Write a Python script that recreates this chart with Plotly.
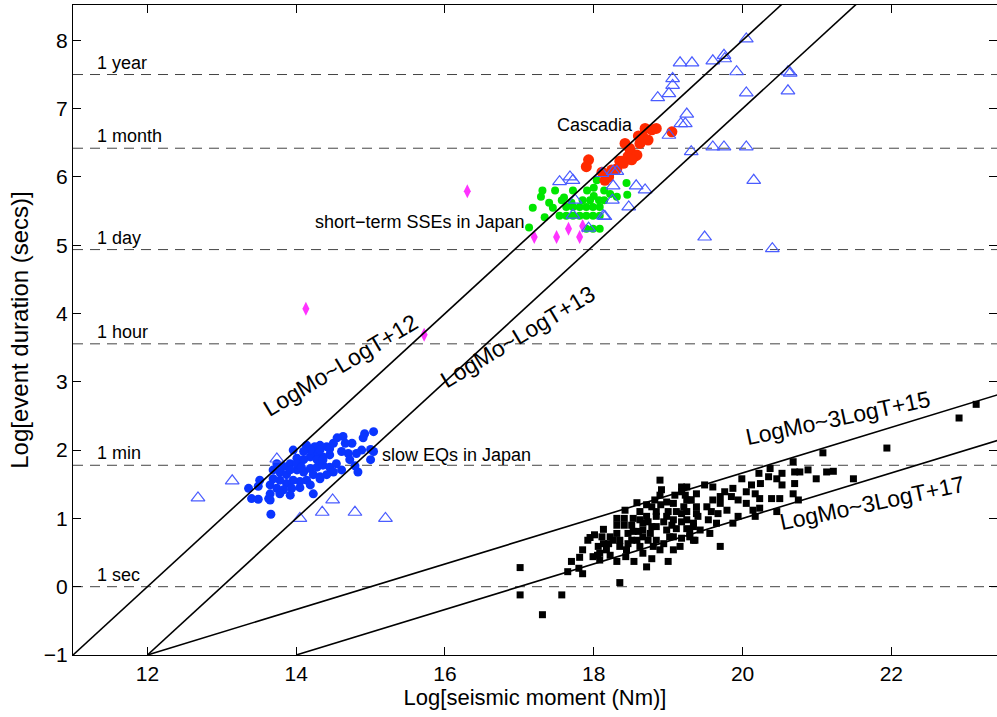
import plotly.graph_objects as go

# ---------------- data ----------------
slow_eqs = [(15.04,2.27),(14.92,2.24),(14.90,2.18),(14.63,2.20),(14.55,2.18),(14.75,2.10),(15.0,2.01),(15.04,1.98),
            (14.88,2.00),(14.81,1.95),(14.70,1.95),(14.72,1.86),(15.0,1.86),(14.79,1.77),(14.61,1.71),(14.41,2.05),
            (14.32,2.07),(14.25,2.05),(14.14,2.05),(14.45,1.93),(14.36,1.90),(14.28,1.95),(14.19,1.90),(14.10,1.86),
            (14.01,1.88),(13.92,1.80),(13.83,1.76),(13.78,1.68),(13.87,1.64),(14.01,1.71),(14.10,1.68),(14.19,1.73),
            (14.28,1.75),(14.36,1.78),(14.45,1.75),(14.54,1.80),(14.50,1.68),(14.41,1.64),(14.32,1.58),(14.23,1.64),
            (14.14,1.56),(14.05,1.54),(13.96,1.56),(13.87,1.51),(13.78,1.56),(13.69,1.58),(13.65,1.49),(13.74,1.44),
            (13.83,1.42),(13.94,1.44),(14.05,1.45),(14.19,1.49),(14.32,1.61),(14.23,1.36),(13.92,1.34),(13.78,1.36),
            (13.65,1.36),(13.63,1.29),(13.51,1.56),(13.49,1.47),(13.36,1.44),(13.40,1.29),(13.49,1.28),(13.65,1.27),
            (13.66,1.06),(13.69,1.71),(13.74,1.80),(14.14,2.07),(14.19,2.00),(14.32,2.00),(14.45,2.02),(14.50,2.10),
            (14.66,2.10),(14.61,1.98),(13.96,2.00),(14.10,1.98),(13.92,1.71),(14.28,1.86),(14.36,1.86),(14.01,1.80),
            (14.07,1.75),(14.83,1.68)]

other_events = [(12.68,1.30),(13.14,1.55),(13.74,1.87),(14.05,1.0),(14.35,1.09),(14.49,1.27),(14.79,1.09),(15.2,1.0),
                (20.05,8.02),(19.16,7.67),(19.32,7.67),(19.60,7.70),(19.75,7.78),(19.76,7.73),(19.92,7.54),(20.61,7.54),
                (20.64,7.52),(19.06,7.44),(19.06,7.34),(19.01,7.22),(18.86,7.16),(20.05,7.23),(20.61,7.26),(19.25,6.92),
                (19.17,6.78),(19.23,6.78),(19.01,6.61),(19.31,6.37),(19.60,6.44),(19.75,6.44),(20.05,6.44),(20.15,5.95),
                (19.49,5.12),(20.40,4.95),(18.26,6.08),(18.31,6.08),(18.11,6.05),(18.26,5.87),(18.57,5.87),(18.69,5.81),
                (18.25,5.66),(18.47,5.56),(18.13,5.43),(17.54,5.93),(17.68,6.00),(17.72,5.95),(17.75,5.66),(17.93,5.25),
                (18.15,5.42),(17.72,5.44)]

cascadia = [(18.69,6.71),(18.78,6.69),(18.84,6.71),(18.66,6.59),(18.73,6.54),(18.62,6.49),(18.42,6.49),(18.49,6.39),
            (18.55,6.30),(18.46,6.30),(18.35,6.23),(18.40,6.20),(17.93,6.25),(17.90,6.15),(18.11,6.07),(18.20,6.00),
            (18.15,5.95),(18.24,6.10),(18.31,6.12),(19.05,6.66),(18.58,6.32),(18.51,6.25),(18.37,6.23),(18.20,6.03),
            (18.60,6.60),(18.48,6.42)]

short_sses = [(17.13,5.26),(17.18,5.55),(17.29,5.71),(17.31,5.80),(17.45,5.55),(17.48,5.80),(17.57,5.66),(17.72,5.80),
              (17.91,5.80),(18.00,5.84),(18.00,5.72),(18.14,5.80),(18.14,5.66),(18.44,5.91),(18.45,5.74),(18.31,5.71),
              (18.07,5.66),(17.63,5.56),(17.72,5.56),(17.81,5.56),(17.90,5.56),(17.99,5.56),(18.08,5.56),(17.54,5.43),
              (17.63,5.43),(17.72,5.43),(17.81,5.43),(17.90,5.43),(17.99,5.43),(18.08,5.43),(17.90,5.24),(17.99,5.24),
              (18.08,5.24),(18.04,5.95),(17.60,5.70),(17.85,5.66),(17.95,5.66),(18.22,5.75),(17.40,5.62),(17.70,5.62),
              (17.34,5.41)]

vlf_events = [(16.30,5.79),(14.13,4.07),(15.72,3.69),(17.20,5.12),(17.50,5.12),(17.66,5.24),(17.81,5.12),(17.85,5.28)]

regular_eqs = [(17.01,0.28),(17.01,-0.12),(17.31,-0.41),(17.57,-0.12),(18.35,0.06),(17.65,0.22),(17.70,0.37),(17.81,0.43),
               (17.85,0.54),(17.85,0.19),(17.80,0.27),(17.95,0.72),(18.01,0.76),(18.05,0.46),(18.08,0.39),(18.13,0.84),
               (18.17,0.54),(18.20,0.63),(18.31,0.37),(18.31,1.0),(18.31,0.90),(18.41,1.0),(18.41,0.90),(18.31,0.78),
               (18.26,0.68),(18.43,0.44),(18.44,0.54),(18.51,0.68),(18.53,0.81),(18.53,1.0),(18.58,1.23),(18.54,0.37),
               (18.62,0.59),(18.66,0.49),(18.71,0.29),(18.78,0.41),(18.66,0.73),(18.76,0.78),(18.84,0.68),(18.89,1.56),
               (18.91,1.42),(18.90,1.20),(19.0,0.37),(18.98,0.83),(19.07,1.22),(19.18,1.46),(19.23,1.34),(19.18,1.07),
               (19.07,0.98),(18.98,1.03),(18.84,1.03),(18.78,0.88),(18.66,0.93),(18.60,0.81),(18.80,0.59),(18.94,0.63),
               (19.07,0.73),(19.18,0.71),(19.29,0.78),(19.36,0.68),(19.34,0.93),(19.25,1.10),(19.38,1.17),(19.31,1.27),
               (18.13,0.63),(18.06,0.59),(18.22,0.46),(18.46,0.78),(18.71,1.03),(18.84,0.88),(19.05,0.90),
               (18.51,0.90),(18.62,0.98),(18.73,0.95),(18.84,1.10),(18.94,0.95),(19.0,1.10),(19.11,1.10),(19.18,0.95),
               (19.25,0.85),(19.40,1.03),(19.11,0.85),(19.02,0.73),(18.66,0.83),(18.58,0.68),(18.73,0.68),(18.89,0.54),
               (19.07,0.54),(19.16,0.59),(18.78,1.17),(19.09,1.34),(18.98,1.24),(19.25,1.27),(18.11,0.73),(18.22,0.73),
               (18.35,0.68),(18.35,0.59),(18.46,0.63),(18.08,0.49),(17.99,0.44),(17.92,0.68),(18.42,1.12),(18.62,1.10),
               (18.71,1.20),(18.82,1.27),(18.89,1.34),(19.25,1.46),(19.38,1.36),
               (21.08,1.96),(20.68,1.83),(20.70,1.68),(20.77,1.68),(20.88,1.71),(21.13,1.68),(21.22,1.69),(20.99,1.58),
               (21.49,1.58),(20.53,1.66),(20.37,1.73),(20.35,1.61),(20.22,1.66),(20.24,1.51),(20.46,1.58),(20.53,1.49),
               (20.70,1.51),(20.68,1.36),(20.75,1.27),(20.50,1.29),(20.39,1.29),(20.23,1.29),(20.17,1.36),(20.05,1.39),
               (19.99,1.58),(20.12,1.49),(19.87,1.44),(19.94,1.27),(20.05,1.22),(20.14,1.12),(20.23,1.15),(20.17,1.03),
               (20.46,1.10),(19.85,1.32),(19.76,1.39),(19.60,1.46),(19.49,1.49),(19.60,1.27),(19.70,1.22),(19.79,1.12),
               (19.67,1.07),(19.58,1.10),(19.52,1.17),(19.94,1.03),(19.87,0.93),(19.65,0.93),(19.54,0.98),(19.56,0.78),
               (19.43,0.83),(19.34,0.88),(19.25,0.98),(19.21,1.17),(19.29,1.27),(19.18,1.39),(19.70,0.59),(19.29,0.73),
               (19.34,0.68),(19.70,1.32),(19.38,1.07),
               (23.14,2.67),(22.91,2.47),(21.94,2.03)]

# scaling lines: LogMo = slope*LogT + offset
line_slopes = [1, 1, 3, 3]
line_offsets = [12, 13, 15, 17]
line_labels = ["LogMo~LogT+12", "LogMo~LogT+13", "LogMo~3LogT+15", "LogMo~3LogT+17"]
line_label_pos = [(14.60, 3.24), (16.97, 3.66), (21.28, 2.47), (21.74, 1.23)]
line_label_angle = [-31, -31, -12, -12]

# reference durations
dur_names = ["1 year", "1 month", "1 day", "1 hour", "1 min", "1 sec"]
dur_logsec = [7.499, 6.42, 4.936, 3.556, 1.778, 0.0]

x_ticks = [12, 14, 16, 18, 20, 22]
y_ticks = [-1, 0, 1, 2, 3, 4, 5, 6, 7, 8]
x_range = [11, 23.42]
y_range = [-1, 8.517]

FONT = "Liberation Sans, Arial, Helvetica, sans-serif"

fig = go.Figure()

# dashed duration lines
for v in dur_logsec:
    fig.add_trace(go.Scatter(x=x_range, y=[v, v], mode="lines",
                             line=dict(color="#444444", width=1, dash="10px,7px"),
                             hoverinfo="skip", showlegend=False))


def xy(pairs):
    return [p[0] for p in pairs], [p[1] for p in pairs]


bx, by = xy(regular_eqs)
fig.add_trace(go.Scatter(x=bx, y=by, mode="markers",
                         marker=dict(symbol="square", size=7, color="black"), showlegend=False))

sx, sy = xy(slow_eqs)
fig.add_trace(go.Scatter(x=sx, y=sy, mode="markers",
                         marker=dict(symbol="circle", size=9, color="#0a35ff"), showlegend=False))

gx, gy = xy(short_sses)
fig.add_trace(go.Scatter(x=gx, y=gy, mode="markers",
                         marker=dict(symbol="circle", size=8, color="#00e600"), showlegend=False))

rx, ry = xy(cascadia)
fig.add_trace(go.Scatter(x=rx, y=ry, mode="markers",
                         marker=dict(symbol="circle", size=11, color="#ff2a00"), showlegend=False))

mx, my = xy(vlf_events)
fig.add_trace(go.Scatter(x=mx, y=my, mode="markers",
                         marker=dict(symbol="diamond-tall", size=10, color="#ff33ff"), showlegend=False))

tx, ty = xy(other_events)
fig.add_trace(go.Scatter(x=tx, y=ty, mode="markers",
                         marker=dict(symbol="triangle-up-open", size=12, color="#4a5cff",
                                     line=dict(width=1.2, color="#4a5cff")), showlegend=False))

# scaling lines
for s, o in zip(line_slopes, line_offsets):
    t0 = y_range[0]
    x0 = s * t0 + o
    x1 = x_range[1] + 2
    fig.add_trace(go.Scatter(x=[x0, x1], y=[t0, (x1 - o) / s], mode="lines",
                             line=dict(color="black", width=1.6),
                             hoverinfo="skip", showlegend=False))

W, H = 997, 717
ml, mr, mt, mb = 73, 0, 5, 62
annotations = []
for (lx, ly), lab, ang in zip(line_label_pos, line_labels, line_label_angle):
    annotations.append(dict(x=lx, y=ly, text=lab, showarrow=False, textangle=ang,
                            font=dict(family=FONT, size=23, color="black")))

for name, v in zip(dur_names, dur_logsec):
    annotations.append(dict(x=11.30, y=v, text=name, showarrow=False, xanchor="left", yanchor="bottom",
                            yshift=0, font=dict(family=FONT, size=18, color="black")))

annotations.append(dict(x=18.02, y=6.76, text="Cascadia", showarrow=False,
                        font=dict(family=FONT, size=18, color="black")))
annotations.append(dict(x=17.10, y=5.34, text="short\u2212term SSEs in Japan", showarrow=False, xanchor="right",
                        font=dict(family=FONT, size=18, color="black")))
annotations.append(dict(x=15.13, y=1.93, text="slow EQs in Japan", showarrow=False, xanchor="left",
                        font=dict(family=FONT, size=18, color="black")))

fig.update_layout(
    width=W, height=H,
    margin=dict(l=ml, r=mr, t=mt, b=mb, autoexpand=False),
    paper_bgcolor="white", plot_bgcolor="white",
    annotations=annotations,
    showlegend=False,
    xaxis=dict(range=x_range, tickvals=x_ticks, ticktext=[str(v) for v in x_ticks], automargin=False,
               ticks="inside", ticklen=8, tickcolor="black", showline=True, linecolor="black", linewidth=1,
               mirror="ticks", showgrid=False, zeroline=False,
               tickfont=dict(family=FONT, size=21, color="black"),
               title=dict(text="Log[seismic moment (Nm)]", standoff=4,
                          font=dict(family=FONT, size=22, color="black"))),
    yaxis=dict(range=y_range, tickvals=y_ticks, automargin=False,
               ticktext=["\u22121"] + [str(v) for v in y_ticks[1:]],
               ticks="inside", ticklen=8, tickcolor="black", showline=True, linecolor="black", linewidth=1,
               mirror="ticks", showgrid=False, zeroline=False,
               tickfont=dict(family=FONT, size=21, color="black"),
               title=dict(text="Log[event duration (secs)]", standoff=8,
                          font=dict(family=FONT, size=24, color="black"))),
)

# remove the browser's default 8px page margin so the figure sits at (0, 0)
fig.write_html("out.html", config={"displayModeBar": False},
               post_script="document.body.style.margin='0';document.body.style.overflow='hidden';")
